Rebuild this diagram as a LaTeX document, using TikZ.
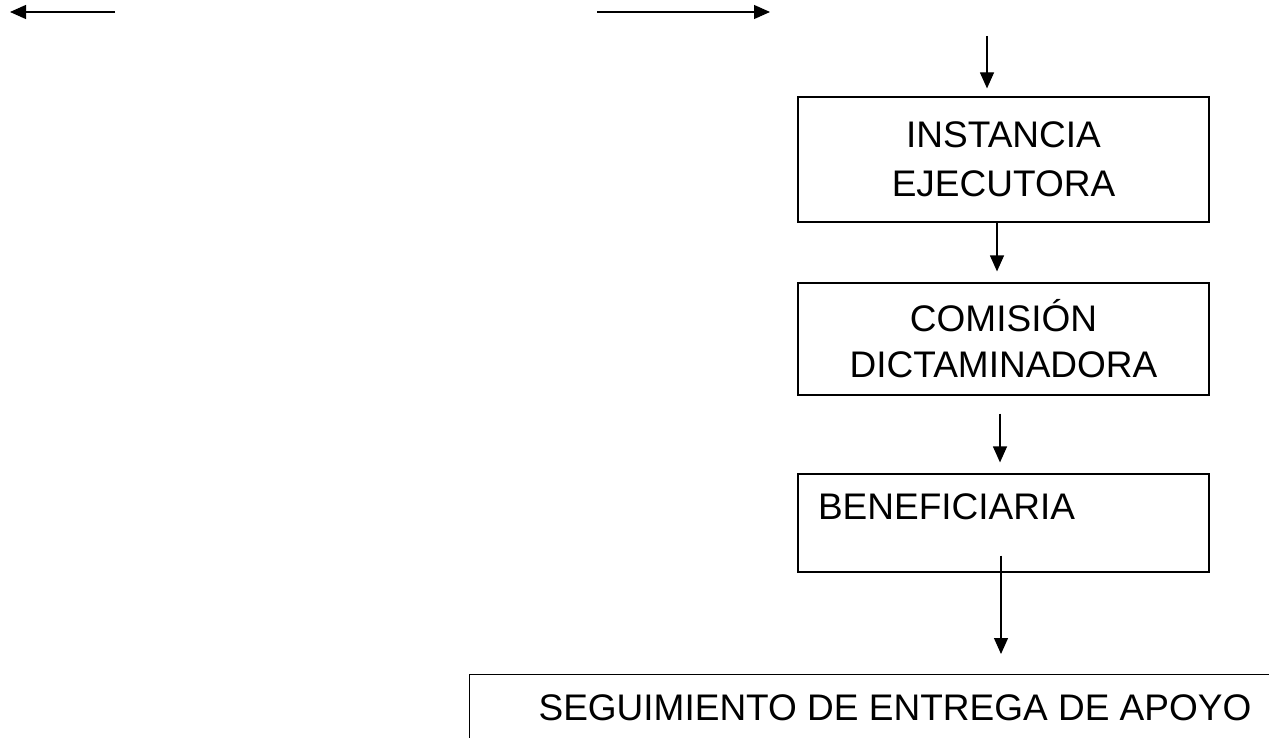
\documentclass[tikz,border=0pt]{standalone}
\usepackage{fontspec}
\setmainfont{Liberation Sans}
\usepackage{tikz}
\usetikzlibrary{arrows.meta}

\begin{document}
\begin{tikzpicture}[x=0.5pt,y=-0.5pt,line width=0.6pt,
  every node/.style={font=\fontsize{18.5}{24.5}\selectfont},
  caja/.style={draw,rectangle,minimum width=205.5pt,align=center},
  flecha/.style={-{Triangle[length=8pt,width=7pt]}}]
\useasboundingbox (0,0) rectangle (1269,738);
\clip (0,0) rectangle (1269,738);

\node[caja,minimum height=62.5pt] (inst) at (1003.5,159.5) {INSTANCIA\\EJECUTORA};
\node[caja,minimum height=56pt,font=\fontsize{18.5}{23}\selectfont] (comision) at (1003.5,339) {COMISIÓN\\DICTAMINADORA};
\node[caja,align=left,inner xsep=10pt,inner ysep=0pt,text width=185.5pt,
  text height=13.25pt,text depth=16.75pt,minimum height=49pt] (benef) at (1003.5,523) {BENEFICIARIA};
\node[draw,anchor=north west,inner xsep=34.5pt,minimum height=33pt] (seg) at (469,674) {SEGUIMIENTO DE ENTREGA DE APOYO};

\coordinate (izqA) at (115,12);
\coordinate (izqB) at (10,12);
\coordinate (derA) at (597,12);
\coordinate (derB) at (770,12);
\coordinate (entrada) at (987,36);
\coordinate (salida) at ([xshift=-1.25pt]benef.south);

\draw[flecha] (izqA) -- (izqB);
\draw[flecha] (derA) -- (derB);
\draw[flecha,shorten >=4pt] (entrada) -- (entrada |- inst.north);
\draw[flecha,shorten >=5.5pt] ([xshift=-3.25pt]inst.south) -- ([xshift=-3.25pt]comision.north);
\draw[flecha,shorten <=9pt,shorten >=5.5pt] ([xshift=-1.75pt]comision.south) -- ([xshift=-1.75pt]benef.north);
\draw[flecha,shorten <=-8.5pt,shorten >=10pt] (salida) -- (salida |- seg.north);
\end{tikzpicture}
\end{document}
